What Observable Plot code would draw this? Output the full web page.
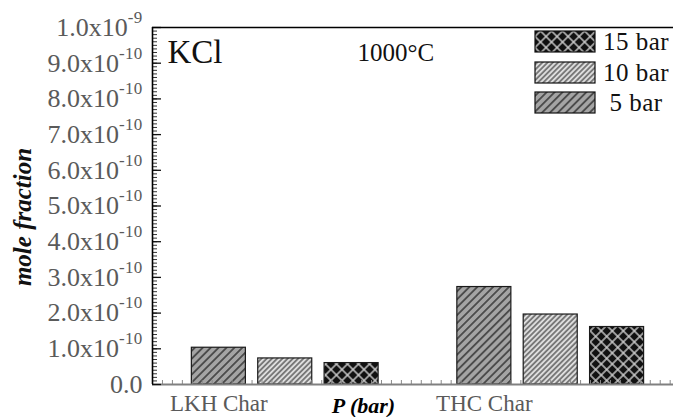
<!DOCTYPE html>
<html><head><meta charset="utf-8">
<script src="https://cdn.jsdelivr.net/npm/d3@7"></script>
<script src="https://cdn.jsdelivr.net/npm/@observablehq/plot@0.6"></script>
<style>
body{margin:0;background:#fff;}
#wrap{position:relative;width:673px;height:417px;overflow:hidden;font-family:"Liberation Serif",serif;background:#fff;}
#chart svg text{font-family:"Liberation Serif",serif;}
#legend{position:absolute;left:535px;top:31px;}
#legend .lg-swatches{columns:1 !important;margin:0 !important;font-family:"Liberation Serif",serif !important;font-size:25px !important;color:#111 !important;}
#legend .lg-swatch{display:flex;align-items:center;height:21px;margin:0 0 9.5px 0 !important;padding:0 !important;}
#legend .lg-swatch svg{margin:0 !important;flex-shrink:0;overflow:visible;}
#legend .lg-swatch svg rect{stroke:#111;stroke-width:1.2px;}
#legend .lg-swatch-label{width:68px;margin-left:7px;text-align:center;overflow:visible !important;line-height:21px;letter-spacing:0.5px;}
</style></head><body>
<svg width="0" height="0" style="position:absolute">
  <defs>
    <pattern id="p5" patternUnits="userSpaceOnUse" width="5.6" height="5.6" patternTransform="rotate(45)">
      <rect width="5.6" height="5.6" fill="#a4a4a4"/>
      <line x1="2.8" y1="0" x2="2.8" y2="5.6" stroke="#1a1a1a" stroke-width="1.2"/>
    </pattern>
    <pattern id="p10" patternUnits="userSpaceOnUse" width="3.7" height="3.7" patternTransform="rotate(45)">
      <rect width="3.7" height="3.7" fill="#dddddd"/>
      <line x1="1.85" y1="0" x2="1.85" y2="3.7" stroke="#333" stroke-width="1.1"/>
    </pattern>
    <pattern id="p15" patternUnits="userSpaceOnUse" width="7.8" height="7.8" patternTransform="rotate(45)">
      <rect width="7.8" height="7.8" fill="#111"/>
      <line x1="3.9" y1="0" x2="3.9" y2="7.8" stroke="#cfcfcf" stroke-width="1.4"/>
      <line x1="0" y1="3.9" x2="7.8" y2="3.9" stroke="#cfcfcf" stroke-width="1.4"/>
    </pattern>
  </defs>
</svg>
<div id="wrap"><div id="chart"></div><div id="legend"></div></div>
<script>
// ---- data ----
const groups = ["LKH Char", "THC Char"];
const pressures = ["5 bar", "10 bar", "15 bar"];
const lkhValues = [1.03e-10, 0.73e-10, 0.60e-10];
const thcValues = [2.73e-10, 1.96e-10, 1.61e-10];
const yTicks = [0, 1e-10, 2e-10, 3e-10, 4e-10, 5e-10, 6e-10, 7e-10, 8e-10, 9e-10, 1e-9];
const yTickLabels = ["0.0", "1.0x10^-10", "2.0x10^-10", "3.0x10^-10", "4.0x10^-10", "5.0x10^-10",
  "6.0x10^-10", "7.0x10^-10", "8.0x10^-10", "9.0x10^-10", "1.0x10^-9"];
const legendOrder = ["15 bar", "10 bar", "5 bar"];
const patternFill = {"5 bar": "url(#p5)", "10 bar": "url(#p10)", "15 bar": "url(#p15)"};

const rows = [];
[lkhValues, thcValues].forEach((vals, g) => vals.forEach((v, i) =>
  rows.push({group: groups[g], pressure: pressures[i], slot: g * 4 + i, value: v})));
const xTickSlots = groups.map((g, i) => i * 4);
const half = 0.407;
const minorTicks = d3.range(0, 101).map(i => i * 1e-11);
const bottomTicks = d3.range(-1, 6.86, 0.15);

const W = 673, H = 417, mT = 27, mB = 33, mL = 152, mR = 0;
const frameW = W - mL - mR, frameH = H - mT - mB;
const FONT = "'Liberation Serif', serif";

const chart = Plot.plot({
  width: W, height: H,
  marginTop: mT, marginBottom: mB, marginLeft: mL, marginRight: mR,
  style: {fontFamily: FONT, background: "transparent", overflow: "visible"},
  x: {domain: [-1, 6.85], axis: null},
  y: {domain: [0, 1e-9], axis: null},
  marks: [
    Plot.rectY(rows, {x1: d => d.slot - half, x2: d => d.slot + half, y: "value",
      fill: d => patternFill[d.pressure], stroke: "#1a1a1a", strokeWidth: 1.2}),
    // bottom axis small upward ticks
    Plot.tickX(bottomTicks, {x: d => d, insetTop: frameH - 4, stroke: "#8a8a8a", strokeWidth: 1}),
    Plot.ruleY([0], {stroke: "#808080", strokeWidth: 1.8}),
    Plot.axisX(xTickSlots, {tickSize: 0, tickPadding: 10, tickFormat: d => groups[d / 4],
      fontSize: 23, fill: "#5a5a5a", label: null, fontFamily: FONT, letterSpacing: "0.9px"}),
    // inward y ticks (minor + major)
    Plot.tickY(minorTicks, {y: d => d, insetRight: frameW - 5, stroke: "#333", strokeWidth: 1}),
    Plot.tickY(yTicks, {y: d => d, insetRight: frameW - 9, stroke: "#111", strokeWidth: 1.3}),
    Plot.axisY(yTicks, {tickSize: 0, tickPadding: 10, tickFormat: d => yTickLabels[yTicks.indexOf(d)],
      fontSize: 26, fill: "#5a5a5a", label: null, fontFamily: FONT, letterSpacing: "1.3px"}),
    Plot.ruleX([-1], {stroke: "#000", strokeWidth: 1.6}),
    Plot.ruleY([1e-9], {stroke: "#000", strokeWidth: 1.6}),
    Plot.text(["KCl"], {text: d => d, frameAnchor: "top-left", textAnchor: "start", lineAnchor: "top",
      dx: 15, dy: 12, fontSize: 33, fill: "#111", fontFamily: FONT}),
    Plot.text(["1000°C"], {text: d => d, frameAnchor: "top-left", textAnchor: "start", lineAnchor: "top",
      dx: 205, dy: 16, fontSize: 25, fill: "#111", fontFamily: FONT, letterSpacing: "0.6px"}),
    Plot.text(["P (bar)"], {text: d => d, frameAnchor: "bottom-left", textAnchor: "middle", lineAnchor: "middle",
      dx: 211, dy: 21, fontSize: 22, fontWeight: "bold", fontStyle: "italic", fill: "#000", fontFamily: FONT,
      letterSpacing: "0.8px"}),
    Plot.text(["mole fraction"], {text: d => d, frameAnchor: "left", textAnchor: "middle", lineAnchor: "middle",
      rotate: -90, dx: -130, dy: 11, fontSize: 25, fontWeight: "bold", fontStyle: "italic", fill: "#111", fontFamily: FONT})
  ]
});
document.getElementById("chart").appendChild(chart);

// superscript exponents in y tick labels
d3.select(chart).selectAll('g[aria-label="y-axis tick label"] text').each(function() {
  const s = this.textContent;
  const k = s.indexOf("^");
  if (k < 0) return;
  const t = d3.select(this);
  t.text(s.slice(0, k));
  t.append("tspan").attr("dy", -13).attr("font-size", 17).attr("letter-spacing", "0.3px").text(s.slice(k + 1));
});

const legend = Plot.legend({
  color: {type: "ordinal", domain: legendOrder, range: legendOrder.map(p => patternFill[p])},
  columns: 1, swatchWidth: 60, swatchHeight: 21, className: "lg"
});
document.getElementById("legend").appendChild(legend);
</script>
</body></html>
